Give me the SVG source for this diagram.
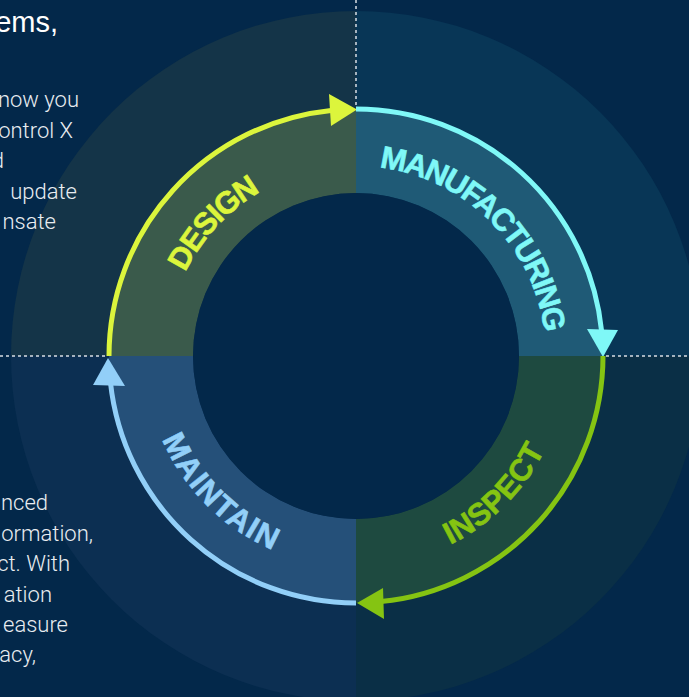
<svg xmlns="http://www.w3.org/2000/svg" width="689" height="697" viewBox="0 0 689 697">
<style>
.body{font-family:Roboto,"Liberation Sans",sans-serif;font-weight:300;font-size:22px;fill:#e9edf1;text-anchor:end}
.lbl{font-family:"Liberation Sans",Arial,sans-serif;font-weight:bold;font-size:31px;text-anchor:middle;stroke-width:0.6}
.dot{stroke:#d8dde3;stroke-width:1.5;stroke-dasharray:3 3;fill:none}
.arc{fill:none;stroke-width:5}
</style>
<defs>
<path id="pDesign" d="M166.1,362.6 A190,190 0 0 1 349.4,166.1"/>
<path id="pManu" d="M356,166 A190,190 0 0 1 546,356"/>
<path id="pInsp" d="M356,567 A211,211 0 0 0 567,356"/>
<path id="pMaint" d="M145,356 A211,211 0 0 0 356,567"/>
</defs>
<rect width="689" height="697" fill="#03284a"/>
<g id="background-circle">
<path d="M356,356 L11,356 A345,345 0 0 1 356,11 Z" fill="#143448"/>
<path d="M356,356 L356,11 A345,345 0 0 1 701,356 Z" fill="#083656"/>
<path d="M356,356 L701,356 A345,345 0 0 1 356,701 Z" fill="#0a2f46"/>
<path d="M356,356 L356,701 A345,345 0 0 1 11,356 Z" fill="#0c2f52"/>
</g>
<g id="text-left">
<text x="58" y="32" style="font-family:'Liberation Sans',Arial,sans-serif;font-size:29px;fill:#ffffff;text-anchor:end">ems,</text>
<text class="body" x="79" y="107">now you</text>
<text class="body" x="73" y="138">ontrol X</text>
<text class="body" x="4" y="168">d</text>
<text class="body" x="77" y="199">update</text>
<text class="body" x="56" y="229">nsate</text>
<text class="body" x="48" y="510">nced</text>
<text class="body" x="93" y="541">ormation,</text>
<text class="body" x="70" y="571">ct. With</text>
<text class="body" x="52" y="602">ation</text>
<text class="body" x="68" y="632">easure</text>
<text class="body" x="36" y="662">acy,</text>
</g>
<g id="dotted-axes">
<line class="dot" x1="356" y1="0" x2="356" y2="106"/>
<line class="dot" x1="0" y1="356" x2="105" y2="356"/>
<line class="dot" x1="606" y1="356" x2="689" y2="356"/>
</g>
<g id="node-design">
<path d="M109,356 A247,247 0 0 1 356,109 L356,193 A163,163 0 0 0 193,356 Z" fill="#3a5a4b"/>
<text class="lbl" fill="#dcf53c" stroke="#dcf53c"><textPath href="#pDesign" startOffset="50%" textLength="112" lengthAdjust="spacing">DESIGN</textPath></text>
</g>
<g id="node-manufacturing">
<path d="M356,109 A247,247 0 0 1 603,356 L519,356 A163,163 0 0 0 356,193 Z" fill="#1f5a76"/>
<text class="lbl" fill="#7ff8f7" stroke="#7ff8f7"><textPath href="#pManu" startOffset="50%" textLength="252" lengthAdjust="spacing">MANUFACTURING</textPath></text>
</g>
<g id="node-inspect">
<path d="M603,356 A247,247 0 0 1 356,603 L356,519 A163,163 0 0 0 519,356 Z" fill="#1e4a40"/>
<text class="lbl" fill="#85c412" stroke="#85c412"><textPath href="#pInsp" startOffset="50%" textLength="136" lengthAdjust="spacing">INSPECT</textPath></text>
</g>
<g id="node-maintain">
<path d="M356,603 A247,247 0 0 1 109,356 L193,356 A163,163 0 0 0 356,519 Z" fill="#255079"/>
<text class="lbl" fill="#92cff8" stroke="#92cff8"><textPath href="#pMaint" startOffset="50%" textLength="160" lengthAdjust="spacing">MAINTAIN</textPath></text>
</g>
<circle id="inner-circle" cx="356" cy="356" r="163" fill="#03284a"/>
<g id="connectors">
<path class="arc" stroke="#dcf53c" d="M109,356 A247,247 0 0 1 331,110.4"/>
<polygon fill="#dcf53c" points="357,109.5 329,94 331,126"/>
<path class="arc" stroke="#7ff8f7" d="M356,109 A247,247 0 0 1 601.6,331"/>
<polygon fill="#7ff8f7" points="603,357 587,329 618,330"/>
<path class="arc" stroke="#85c412" d="M603,356 A247,247 0 0 1 381,601.6"/>
<polygon fill="#85c412" points="357,603 383,588 384,619"/>
<path class="arc" stroke="#92cff8" d="M356,603 A247,247 0 0 1 110.4,382"/>
<polygon fill="#92cff8" points="108,358 93,385 125,386"/>
</g>
</svg>
